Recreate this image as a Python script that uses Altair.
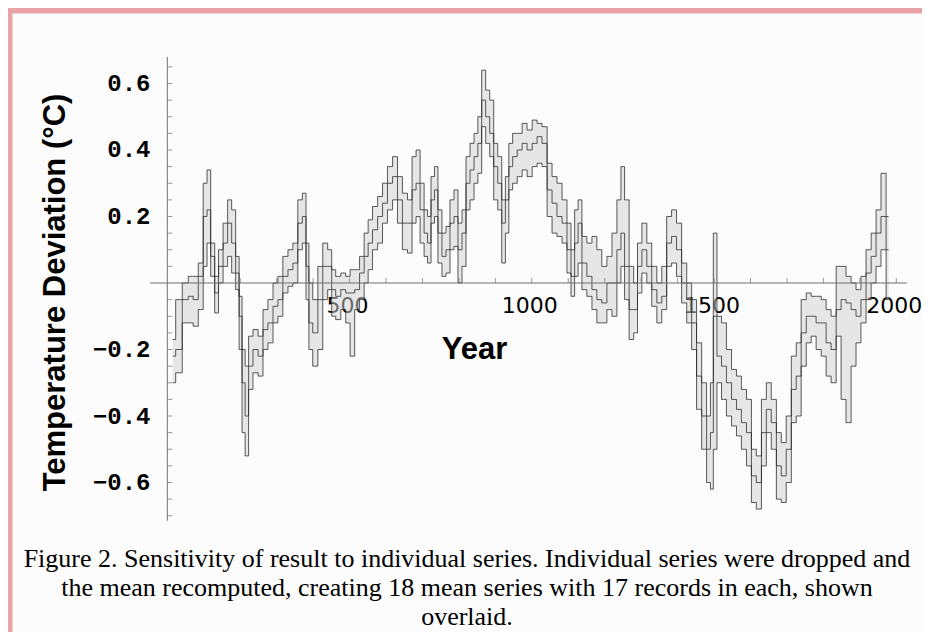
import altair as alt
import pandas as pd

# ---- data ----
years = [15, 31, 51, 64, 78, 92, 105, 113, 125, 135, 146, 160, 171, 182, 193, 201, 209, 218, 228, 242,
         256, 269, 283, 297, 310, 324, 338, 351, 365, 376, 385, 392, 406, 420, 433, 447, 455, 469, 483, 496,
         507, 521, 534, 546, 556, 570, 584, 597, 611, 625, 638, 652, 666, 677, 688, 699, 710, 718, 729, 737,
         748, 759, 770, 781, 792, 803, 814, 825, 836, 847, 857, 868, 879, 890, 901, 912, 923, 932, 942, 953,
         967, 980, 994, 1008, 1021, 1035, 1049, 1062, 1076, 1090, 1103, 1112, 1123, 1131, 1144, 1158, 1172, 1185, 1199, 1213,
         1227, 1240, 1249, 1260, 1274, 1285, 1295, 1309, 1322, 1336, 1350, 1363, 1377, 1390, 1404, 1418, 1432, 1445, 1459, 1473,
         1486, 1494, 1502, 1514, 1527, 1541, 1555, 1568, 1582, 1596, 1609, 1623, 1637, 1650, 1664, 1678, 1691, 1705, 1719, 1732,
         1746, 1760, 1773, 1787, 1801, 1814, 1828, 1842, 1855, 1869, 1883, 1896, 1910, 1924, 1938, 1951, 1965, 1979]

center = [-0.22, -0.20, -0.05, -0.04, -0.05, 0.02, 0.20, 0.22, 0.08, -0.03, 0.05, 0.12, 0.18, 0.12, 0.03, -0.10, -0.30, -0.40, -0.25, -0.20,
          -0.22, -0.14, -0.12, -0.07, -0.05, 0.02, 0.04, 0.06, 0.18, 0.20, 0.05, -0.12, -0.15, -0.05, 0.05, 0.05, -0.02, -0.04, -0.02, -0.03,
          -0.03, -0.02, 0.03, 0.08, 0.12, 0.16, 0.20, 0.24, 0.30, 0.32, 0.25, 0.18, 0.18, 0.28, 0.30, 0.22, 0.15, 0.12, 0.25, 0.28,
          0.15, 0.08, 0.10, 0.18, 0.20, 0.10, 0.15, 0.30, 0.34, 0.38, 0.42, 0.55, 0.50, 0.45, 0.35, 0.30, 0.18, 0.25, 0.35, 0.38,
          0.40, 0.42, 0.40, 0.42, 0.44, 0.42, 0.28, 0.24, 0.20, 0.18, 0.10, 0.02, 0.12, 0.18, 0.06, 0.02, -0.02, -0.05, -0.06, 0.00,
          0.00, 0.10, 0.15, 0.05, -0.08, -0.08, 0.05, 0.10, 0.05, -0.02, -0.06, -0.04, 0.12, 0.14, 0.10, 0.00, -0.05, -0.12, -0.28, -0.40,
          -0.50, -0.45, -0.10, -0.22, -0.25, -0.30, -0.35, -0.38, -0.42, -0.45, -0.58, -0.60, -0.45, -0.38, -0.42, -0.55, -0.58, -0.50, -0.32, -0.28,
          -0.15, -0.10, -0.10, -0.12, -0.12, -0.18, -0.20, -0.08, -0.05, -0.06, -0.08, -0.10, -0.05, 0.03, 0.08, 0.15, 0.20, 0.10]

lower = [-0.30, -0.27, -0.12, -0.12, -0.13, -0.08, 0.05, 0.12, 0.02, -0.09, 0.00, 0.05, 0.08, 0.03, -0.02, -0.20, -0.45, -0.52, -0.32, -0.27,
         -0.28, -0.20, -0.18, -0.12, -0.10, -0.03, -0.01, 0.00, 0.10, 0.12, -0.05, -0.20, -0.25, -0.20, -0.05, -0.02, -0.10, -0.11, -0.08, -0.12,
         -0.22, -0.08, -0.05, 0.00, 0.04, 0.10, 0.12, 0.18, 0.22, 0.25, 0.18, 0.10, 0.09, 0.18, 0.20, 0.12, 0.08, 0.06, 0.18, 0.20,
         0.06, 0.02, 0.03, 0.10, 0.11, 0.00, 0.05, 0.22, 0.25, 0.30, 0.33, 0.47, 0.42, 0.38, 0.25, 0.22, 0.06, 0.15, 0.28, 0.30,
         0.32, 0.34, 0.32, 0.35, 0.36, 0.35, 0.20, 0.15, 0.14, 0.12, 0.03, -0.04, 0.02, 0.06, -0.02, -0.04, -0.08, -0.12, -0.12, -0.08,
         -0.10, 0.00, 0.05, -0.05, -0.17, -0.15, -0.03, 0.03, 0.00, -0.07, -0.12, -0.08, 0.05, 0.06, 0.02, -0.06, -0.12, -0.20, -0.38, -0.50,
         -0.60, -0.62, -0.50, -0.30, -0.35, -0.40, -0.43, -0.46, -0.50, -0.55, -0.66, -0.68, -0.55, -0.45, -0.50, -0.65, -0.66, -0.60, -0.42, -0.40,
         -0.25, -0.18, -0.16, -0.20, -0.22, -0.28, -0.30, -0.16, -0.35, -0.42, -0.25, -0.18, -0.12, -0.05, 0.00, 0.05, 0.10, -0.05]

upper = [-0.17, -0.05, 0.00, 0.02, 0.02, 0.06, 0.30, 0.34, 0.12, 0.02, 0.10, 0.18, 0.25, 0.22, 0.08, -0.04, -0.20, -0.25, -0.16, -0.14,
         -0.16, -0.08, -0.05, 0.00, 0.02, 0.08, 0.10, 0.12, 0.25, 0.27, 0.12, 0.00, -0.05, 0.05, 0.12, 0.10, 0.04, 0.02, 0.03, 0.02,
         0.04, 0.04, 0.08, 0.15, 0.19, 0.23, 0.26, 0.30, 0.35, 0.38, 0.32, 0.27, 0.25, 0.38, 0.40, 0.30, 0.22, 0.20, 0.32, 0.35,
         0.22, 0.15, 0.17, 0.25, 0.28, 0.18, 0.22, 0.38, 0.42, 0.45, 0.50, 0.64, 0.58, 0.55, 0.42, 0.38, 0.25, 0.32, 0.42, 0.45,
         0.45, 0.48, 0.46, 0.49, 0.48, 0.47, 0.36, 0.32, 0.30, 0.25, 0.18, 0.10, 0.22, 0.25, 0.14, 0.12, 0.14, 0.10, 0.05, 0.08,
         0.15, 0.25, 0.35, 0.25, 0.05, 0.00, 0.12, 0.18, 0.12, 0.05, 0.00, 0.05, 0.20, 0.22, 0.18, 0.06, 0.00, -0.05, -0.18, -0.30,
         -0.40, -0.30, 0.15, -0.10, -0.12, -0.20, -0.26, -0.28, -0.32, -0.35, -0.50, -0.52, -0.35, -0.30, -0.35, -0.45, -0.48, -0.40, -0.22, -0.18,
         -0.05, -0.03, -0.04, -0.04, -0.05, -0.08, -0.10, 0.05, 0.05, 0.02, 0.00, -0.02, 0.02, 0.10, 0.15, 0.22, 0.33, 0.20]

x_label_values = [500, 1000, 1500, 2000]
x_minor_ticks = [100, 200, 300, 400, 500, 600, 700, 800, 900, 1000,
                 1100, 1200, 1300, 1400, 1500, 1600, 1700, 1800, 1900, 2000]
y_label_values = [-0.6, -0.4, -0.2, 0.2, 0.4, 0.6]
y_minor_ticks = [-0.7, -0.65, -0.6, -0.55, -0.5, -0.45, -0.4, -0.35, -0.3, -0.25, -0.2, -0.15, -0.1, -0.05,
                 0.05, 0.1, 0.15, 0.2, 0.25, 0.3, 0.35, 0.4, 0.45, 0.5, 0.55, 0.6, 0.65]
x_axis_extent = [-47, 2029]
y_axis_extent = [-0.715, 0.68]

caption = [
    "Figure 2. Sensitivity of result to individual series. Individual series were dropped and",
    "the mean recomputed, creating 18 mean series with 17 records in each, shown",
    "overlaid.",
]

# ---- tables ----
long_rows = []
for name, vals in (("lower", lower), ("center", center), ("upper", upper)):
    for yr, v in zip(years, vals):
        long_rows.append({"year": yr, "value": v, "series": name})
lines_df = pd.DataFrame(long_rows)
band_df = pd.DataFrame({"year": years, "value": lower, "value2": upper})
xaxis_df = pd.DataFrame({"year": [x_axis_extent[0]], "year2": [x_axis_extent[1]], "value": [0.0]})
yaxis_df = pd.DataFrame({"year": [0], "value": [y_axis_extent[0]], "value2": [y_axis_extent[1]]})
xt_df = pd.DataFrame({"year": x_minor_ticks, "value": [0.0] * len(x_minor_ticks)})
yt_df = pd.DataFrame({"year": [0] * len(y_minor_ticks), "value": y_minor_ticks})

W, H = 910, 619
xs = alt.Scale(domain=[-426.1, 2070.5], nice=False, zero=False)
ys = alt.Scale(domain=[-1.0496, 0.812], nice=False, zero=False)

xaxis = alt.Axis(values=x_label_values, format="d", domain=False, ticks=False, grid=False,
                 offset=-349, labelFont="DejaVu Sans", labelFontSize=22, labelColor="black",
                 labelPadding=12, labelFlush=False, labelOverlap=False, labelOffset=-2.5,
                 title="Year", titleFont="Liberation Sans", titleFontWeight="bold", titleFontSize=31,
                 titleColor="black", titleX=462, titleY=66, titleAlign="center", titleBaseline="middle")
yaxis = alt.Axis(values=y_label_values, format=".1f", domain=False, ticks=False, grid=False,
                 offset=-156, labelFont="Liberation Mono", labelFontWeight="bold", labelFontSize=24,
                 labelColor="black", labelPadding=18, labelFlush=False, labelOverlap=False,
                 title="Temperature Deviation (°C)", titleFont="Liberation Sans", titleFontWeight="bold",
                 titleFontSize=31, titleColor="black", titleAngle=270, titleX=-113, titleY=279,
                 titleAlign="center", titleBaseline="middle")

X = alt.X("year:Q", scale=xs, axis=xaxis)
Y = alt.Y("value:Q", scale=ys, axis=yaxis)

band = alt.Chart(band_df).mark_area(interpolate="step", color="#cfcfcf", opacity=0.5).encode(
    x=X, y=Y, y2="value2:Q")
lines = alt.Chart(lines_df).mark_line(interpolate="step", color="#262626", strokeWidth=0.75).encode(
    x=X, y=Y, detail="series:N")
xline = alt.Chart(xaxis_df).mark_rule(color="#707070", strokeWidth=1).encode(x=X, x2="year2:Q", y=Y)
yline = alt.Chart(yaxis_df).mark_rule(color="#707070", strokeWidth=1).encode(x=X, y=Y, y2="value2:Q")
xticks = alt.Chart(xt_df).mark_tick(orient="vertical", size=5, thickness=1, yOffset=-2.5,
                                    color="#707070").encode(x=X, y=Y)
yticks = alt.Chart(yt_df).mark_tick(orient="horizontal", size=5, thickness=1, xOffset=2.5,
                                    color="#707070").encode(x=X, y=Y)

chart = alt.layer(band, lines, xline, yline, xticks, yticks).properties(
    width=W, height=H,
    autosize=alt.AutoSizeParams(type="none"),
    padding={"left": 4, "top": 5, "right": 0, "bottom": 0},
    background="#e9a3a6",
    title=alt.TitleParams(text=caption, orient="bottom", anchor="middle", frame="group",
                          font="Liberation Serif", fontSize=26, fontWeight="normal",
                          lineHeight=29, color="black", offset=-86.5),
).configure_view(fill="#fcfcfc", stroke="transparent")

chart.save("out.html", embed_options={"renderer": "svg", "actions": False})
